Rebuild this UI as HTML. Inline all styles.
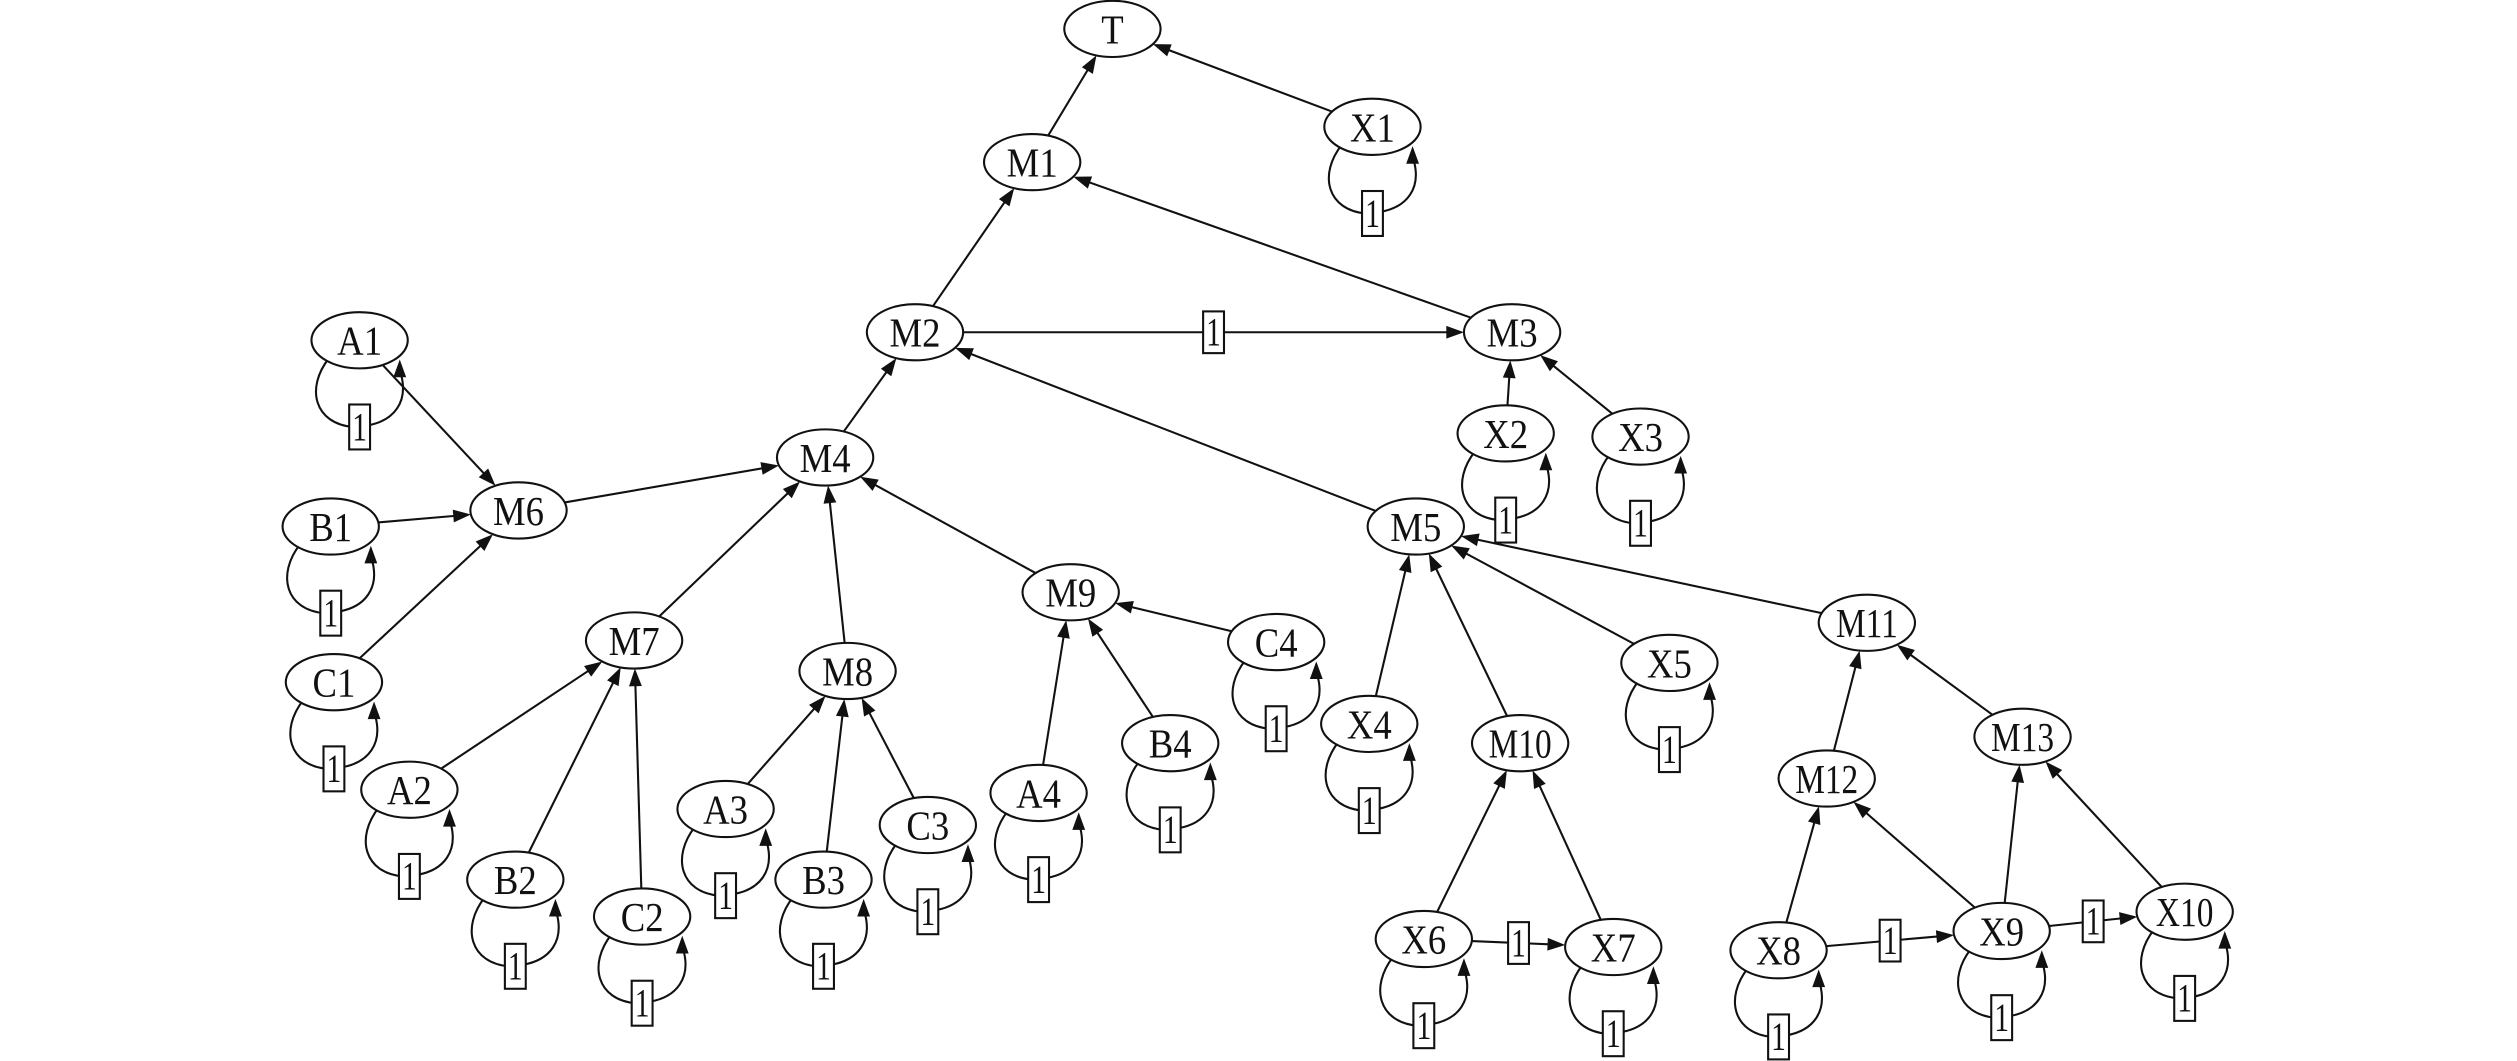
<!DOCTYPE html>
<html><head><meta charset="utf-8"><style>
html,body{margin:0;padding:0;background:#fff;}
svg{display:block;}
text{font-family:"Liberation Serif",serif;}
</style></head><body>
<svg id="g" xmlns="http://www.w3.org/2000/svg" width="2517" height="1061" viewBox="0 0 1568 661">
<rect width="1568" height="661" fill="#fff"/>
</svg>
<script>
const N={T:[693,18],X1:[855,79],M1:[643,101],M2:[570,207],M3:[942,207],A1:[224,212],X2:[938,270],X3:[1022,272],
M4:[514,285],B1:[206,328],M6:[323,318],M5:[882,328],M9:[667,369],M11:[1163,388],C1:[208,425],M7:[395,399],
M8:[528,418],C4:[795,400],X5:[1040,413],X4:[853,451],M10:[947,463],M13:[1260,459],B4:[729,463],A2:[255,492],
A4:[647,494],M12:[1138,485],A3:[452,504],C3:[578,514],B3:[513,548],B2:[321,548],C2:[400,571],X6:[887,585],
X7:[1005,590],X8:[1108,592],X9:[1247,580],X10:[1361,568]};
const RX=30,RY=17.5;
const loops=['X1','A1','X2','X3','B1','C1','C4','X5','X4','B4','A2','A4','A3','C3','B3','B2','C2','X6','X7','X8','X9','X10'];
const E=[['X1','T'],['M1','T'],['M2','M1'],['M3','M1'],['M2','M3',1],['X2','M3'],['X3','M3'],['M4','M2'],['M5','M2'],
['A1','M6'],['B1','M6'],['C1','M6'],['M6','M4'],['M7','M4'],['M8','M4'],['M9','M4'],['A2','M7'],['B2','M7'],['C2','M7'],
['A3','M8'],['B3','M8'],['C3','M8'],['A4','M9'],['B4','M9'],['C4','M9'],['X4','M5'],['M10','M5'],['X5','M5'],['M11','M5'],
['X6','M10'],['X7','M10'],['M12','M11'],['M13','M11'],['X8','M12'],['X9','M12'],['X9','M13'],['X10','M13'],
['X6','X7',1],['X8','X9',1],['X9','X10',1]];
let s='';
function bnd(c,dx,dy){const t=1/Math.sqrt((dx*dx)/(RX*RX)+(dy*dy)/(RY*RY));return [c[0]+dx*t,c[1]+dy*t];}
function arrow(tx,ty,ux,uy){const L=11,W=4;const bx=tx-ux*L,by=ty-uy*L;
return `<polygon points="${tx},${ty} ${bx-uy*W},${by+ux*W} ${bx+uy*W},${by-ux*W}" fill="#111"/>`;}
function box(x,y,w,h,fs){return `<rect x="${x-w/2}" y="${y-h/2}" width="${w}" height="${h}" fill="#fff" stroke="#111" stroke-width="1.3"/><text transform="translate(${x},${y+fs*0.36}) scale(0.8,1.1)" font-size="${fs}" text-anchor="middle" fill="#111">1</text>`;}
for(const e of E){const a=N[e[0]],b=N[e[1]];const dx=b[0]-a[0],dy=b[1]-a[1];const d=Math.hypot(dx,dy);const ux=dx/d,uy=dy/d;
const p=bnd(a,dx,dy),q=bnd(b,-dx,-dy);
s+=`<line x1="${p[0]}" y1="${p[1]}" x2="${q[0]-ux*10}" y2="${q[1]-uy*10}" stroke="#111" stroke-width="1.3"/>`;
s+=arrow(q[0],q[1],ux,uy);
if(e[2]){const mx=(p[0]+q[0])/2,my=(p[1]+q[1])/2;s+=box(mx,my,13,26,23);}}
for(const k of loops){const [cx,cy]=N[k];
s+=`<path d="M${cx-19},${cy+11} C${cx-34},${cy+30} ${cx-28},${cy+52} ${cx-4},${cy+54} M${cx+5},${cy+53} C${cx+22},${cy+50} ${cx+30},${cy+38} ${cx+26},${cy+22}" fill="none" stroke="#111" stroke-width="1.3"/>`;
s+=arrow(cx+25,cy+12,0,-1);
s+=box(cx,cy+54,13,28,23);}
for(const k in N){const [cx,cy]=N[k];
s+=`<ellipse cx="${cx}" cy="${cy}" rx="${RX}" ry="${RY}" fill="#fff" stroke="#111" stroke-width="1.3"/>`;
s+=`<text transform="translate(${cx},${cy+9}) scale(${k.length>2?0.8:0.88},1)" font-size="26" text-anchor="middle" fill="#111">${k}</text>`;}
document.getElementById('g').insertAdjacentHTML('beforeend',s);
</script>
</body></html>
